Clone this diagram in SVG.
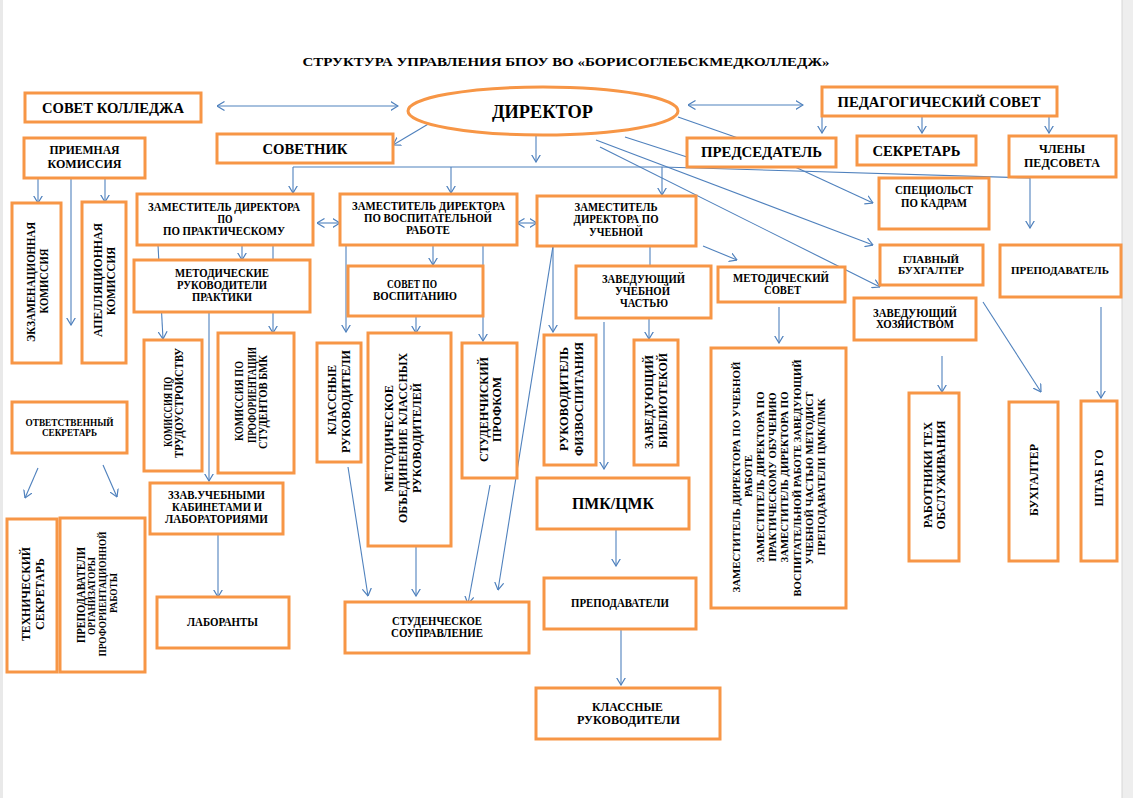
<svg xmlns="http://www.w3.org/2000/svg" width="1133" height="798" viewBox="0 0 1133 798">
<defs>
<style>
.b{fill:#fff;stroke:#F79646;stroke-width:3}
.c{fill:none;stroke:#4F81BD;stroke-width:1.1}
.e{marker-end:url(#ar)}
.d{marker-start:url(#ar);marker-end:url(#ar)}
.t{font-family:"Liberation Serif","Times New Roman",serif;font-weight:bold;fill:#000;text-anchor:middle}
</style>
<marker id="ar" markerUnits="userSpaceOnUse" viewBox="0 0 8 10" markerWidth="8" markerHeight="10" refX="7.5" refY="5" orient="auto-start-reverse">
<path d="M0,0.5 L7.5,5 L0,9.5" fill="none" stroke="#4F81BD" stroke-width="1.2"/>
</marker>
</defs>
<rect x="0" y="0" width="1133" height="798" fill="#fff"/>
<rect x="0" y="0" width="3" height="798" fill="#e9e9e9"/>
<rect x="1122" y="0" width="11" height="798" fill="#eeeeee"/>
<line x1="1122" y1="0" x2="1122" y2="798" stroke="#d6d6d6" stroke-width="1"/>

<text class="t" x="566" y="66" font-size="13.5" textLength="527" lengthAdjust="spacingAndGlyphs">СТРУКТУРА УПРАВЛЕНИЯ БПОУ ВО «БОРИСОГЛЕБСКМЕДКОЛЛЕДЖ»</text>

<g id="connectors">
<line class="c d" x1="217" y1="106" x2="398" y2="106"/>
<line class="c d" x1="688" y1="105" x2="803" y2="105"/>
<line class="c e" x1="430" y1="123" x2="393" y2="145"/>
<line class="c e" x1="536" y1="135" x2="536" y2="162"/>
<polyline class="c" points="293,167 662,167 1030,178"/>
<line class="c e" x1="1030" y1="178" x2="1030" y2="228"/>
<line class="c e" x1="293" y1="167" x2="293" y2="193"/>
<line class="c e" x1="451" y1="167" x2="451" y2="193"/>
<line class="c e" x1="662" y1="167" x2="662" y2="195"/>
<line class="c" x1="678" y1="117" x2="738" y2="138"/>
<line class="c" x1="625" y1="137" x2="687" y2="157"/>
<line class="c e" x1="822" y1="116" x2="822" y2="133"/>
<line class="c e" x1="922" y1="116" x2="922" y2="133"/>
<line class="c e" x1="1049" y1="116" x2="1049" y2="133"/>
<line class="c e" x1="795" y1="167" x2="873" y2="203"/>
<line class="c e" x1="596" y1="140" x2="873" y2="245"/>
<line class="c e" x1="600" y1="147" x2="880" y2="287"/>
<line class="c e" x1="38" y1="178" x2="38" y2="203"/>
<line class="c e" x1="105" y1="178" x2="105" y2="202"/>
<line class="c e" x1="71" y1="178" x2="71" y2="325"/>
<line class="c d" x1="317" y1="223" x2="340" y2="223"/>
<line class="c d" x1="517" y1="223" x2="537" y2="223"/>
<line class="c e" x1="242" y1="245" x2="242" y2="260"/>
<line class="c e" x1="158" y1="245" x2="163" y2="339"/>
<line class="c e" x1="273" y1="245" x2="273" y2="333"/>
<line class="c e" x1="209" y1="312" x2="209" y2="481"/>
<line class="c e" x1="38" y1="468" x2="25" y2="498"/>
<line class="c e" x1="103" y1="465" x2="117" y2="497"/>
<line class="c e" x1="218" y1="534" x2="218" y2="597"/>
<line class="c e" x1="433" y1="245" x2="433" y2="265"/>
<line class="c e" x1="346" y1="245" x2="346" y2="332"/>
<line class="c e" x1="483" y1="245" x2="483" y2="341"/>
<line class="c e" x1="416" y1="316" x2="416" y2="333"/>
<line class="c e" x1="348" y1="467" x2="368" y2="596"/>
<line class="c e" x1="416" y1="546" x2="416" y2="596"/>
<line class="c e" x1="490" y1="485" x2="468" y2="604"/>
<line class="c e" x1="553" y1="246" x2="498" y2="590"/>
<line class="c e" x1="553" y1="246" x2="553" y2="332"/>
<line class="c" x1="650" y1="246" x2="650" y2="266"/>
<line class="c e" x1="649" y1="318" x2="649" y2="339"/>
<line class="c e" x1="604" y1="322" x2="604" y2="469"/>
<line class="c e" x1="703" y1="246" x2="737" y2="260"/>
<line class="c e" x1="779" y1="307" x2="779" y2="343"/>
<line class="c e" x1="616" y1="529" x2="616" y2="566"/>
<line class="c e" x1="621" y1="629" x2="621" y2="685"/>
<line class="c e" x1="942" y1="356" x2="942" y2="392"/>
<line class="c e" x1="983" y1="302" x2="1041" y2="392"/>
<line class="c e" x1="1101" y1="307" x2="1101" y2="398"/>
</g>

<g id="sovet_kolledzha"><rect class="b" x="25" y="93" width="176" height="29"/>
<text class="t" x="113" y="113" font-size="15" textLength="142" lengthAdjust="spacingAndGlyphs">СОВЕТ КОЛЛЕДЖА</text></g>

<g id="direktor"><ellipse cx="543" cy="111" rx="135" ry="24" fill="#fff" stroke="#F79646" stroke-width="3"/>
<text class="t" x="542.5" y="118" font-size="18.5" textLength="101" lengthAdjust="spacingAndGlyphs">ДИРЕКТОР</text></g>

<g id="ped_sovet"><rect class="b" x="822" y="87" width="235" height="29"/>
<text class="t" x="939" y="107" font-size="15" textLength="203" lengthAdjust="spacingAndGlyphs">ПЕДАГОГИЧЕСКИЙ СОВЕТ</text></g>

<g id="sovetnik"><rect class="b" x="217" y="134" width="176" height="29"/>
<text class="t" x="305" y="154" font-size="15" textLength="85" lengthAdjust="spacingAndGlyphs">СОВЕТНИК</text></g>

<g id="predsedatel"><rect class="b" x="687" y="138" width="149" height="29"/>
<text class="t" x="761.5" y="157" font-size="15" textLength="121" lengthAdjust="spacingAndGlyphs">ПРЕДСЕДАТЕЛЬ</text></g>

<g id="sekretar"><rect class="b" x="857" y="136" width="119" height="29"/>
<text class="t" x="916.5" y="156" font-size="15" textLength="88" lengthAdjust="spacingAndGlyphs">СЕКРЕТАРЬ</text></g>

<g id="chleny"><rect class="b" x="1009" y="136" width="107" height="41"/>
<text class="t" x="1062" y="153" font-size="12" textLength="46" lengthAdjust="spacingAndGlyphs">ЧЛЕНЫ</text>
<text class="t" x="1062" y="167" font-size="12" textLength="76" lengthAdjust="spacingAndGlyphs">ПЕДСОВЕТА</text></g>

<g id="priemnaya"><rect class="b" x="24" y="138" width="121" height="40"/>
<text class="t" x="84.5" y="154" font-size="12.5" textLength="70" lengthAdjust="spacingAndGlyphs">ПРИЕМНАЯ</text>
<text class="t" x="84.5" y="168" font-size="12.5" textLength="74" lengthAdjust="spacingAndGlyphs">КОМИССИЯ</text></g>

<g id="ekzamen"><rect class="b" x="12" y="203" width="49" height="160"/>
<text class="t" transform="translate(35,282) rotate(-90)" font-size="12.5" textLength="120" lengthAdjust="spacingAndGlyphs">ЭКЗАМЕНАЦИОННАЯ</text>
<text class="t" transform="translate(48,281) rotate(-90)" font-size="12.5" textLength="65" lengthAdjust="spacingAndGlyphs">КОМИССИЯ</text></g>

<g id="apell"><rect class="b" x="82" y="202" width="44" height="161"/>
<text class="t" transform="translate(102,280) rotate(-90)" font-size="12.5" textLength="114" lengthAdjust="spacingAndGlyphs">АПЕЛЛЯЦИОННАЯ</text>
<text class="t" transform="translate(115,281) rotate(-90)" font-size="12.5" textLength="68" lengthAdjust="spacingAndGlyphs">КОМИССИЯ</text></g>

<g id="zam_prakt"><rect class="b" x="137" y="194" width="176" height="51"/>
<text class="t" x="224" y="211" font-size="11.5" textLength="152" lengthAdjust="spacingAndGlyphs">ЗАМЕСТИТЕЛЬ ДИРЕКТОРА</text>
<text class="t" x="225" y="223" font-size="11.5" textLength="15" lengthAdjust="spacingAndGlyphs">ПО</text>
<text class="t" x="224" y="235" font-size="11.5" textLength="122" lengthAdjust="spacingAndGlyphs">ПО ПРАКТИЧЕСКОМУ</text></g>

<g id="zam_vosp"><rect class="b" x="340" y="194" width="177" height="51"/>
<text class="t" x="428.5" y="210" font-size="11.5" textLength="153" lengthAdjust="spacingAndGlyphs">ЗАМЕСТИТЕЛЬ ДИРЕКТОРА</text>
<text class="t" x="428" y="222" font-size="11.5" textLength="128" lengthAdjust="spacingAndGlyphs">ПО ВОСПИТАТЕЛЬНОЙ</text>
<text class="t" x="428" y="234" font-size="11.5" textLength="44" lengthAdjust="spacingAndGlyphs">РАБОТЕ</text></g>

<g id="zam_uch"><rect class="b" x="537" y="196" width="159" height="50"/>
<text class="t" x="616" y="211" font-size="11.5" textLength="83" lengthAdjust="spacingAndGlyphs">ЗАМЕСТИТЕЛЬ</text>
<text class="t" x="616" y="223" font-size="11.5" textLength="85" lengthAdjust="spacingAndGlyphs">ДИРЕКТОРА ПО</text>
<text class="t" x="616" y="236" font-size="11.5" textLength="54" lengthAdjust="spacingAndGlyphs">УЧЕБНОЙ</text></g>

<g id="specialist"><rect class="b" x="879" y="178" width="110" height="51"/>
<text class="t" x="934" y="194" font-size="11.5" textLength="78" lengthAdjust="spacingAndGlyphs">СПЕЦИОЛЬСТ</text>
<text class="t" x="934" y="207" font-size="11.5" textLength="66" lengthAdjust="spacingAndGlyphs">ПО КАДРАМ</text></g>

<g id="glavbuh"><rect class="b" x="880" y="245" width="103" height="40"/>
<text class="t" x="931" y="263" font-size="11" textLength="56" lengthAdjust="spacingAndGlyphs">ГЛАВНЫЙ</text>
<text class="t" x="931" y="274" font-size="11" textLength="66" lengthAdjust="spacingAndGlyphs">БУХГАЛТЕР</text></g>

<g id="prepodavatel"><rect class="b" x="1000" y="245" width="121" height="52"/>
<text class="t" x="1060" y="274" font-size="11" textLength="98" lengthAdjust="spacingAndGlyphs">ПРЕПОДАВАТЕЛЬ</text></g>

<g id="zavhoz"><rect class="b" x="854" y="298" width="122" height="42"/>
<text class="t" x="915" y="317" font-size="11.5" textLength="84" lengthAdjust="spacingAndGlyphs">ЗАВЕДУЮЩИЙ</text>
<text class="t" x="915" y="328" font-size="11.5" textLength="78" lengthAdjust="spacingAndGlyphs">ХОЗЯЙСТВОМ</text></g>

<g id="met_sovet"><rect class="b" x="718" y="267" width="127" height="35"/>
<text class="t" x="781" y="282" font-size="11.5" textLength="96" lengthAdjust="spacingAndGlyphs">МЕТОДИЧЕСКИЙ</text>
<text class="t" x="782.5" y="294" font-size="11.5" textLength="37" lengthAdjust="spacingAndGlyphs">СОВЕТ</text></g>

<g id="met_sovet_sostav"><rect class="b" x="711" y="348" width="135" height="260"/>
<text class="t" transform="translate(740,477) rotate(-90)" font-size="11" textLength="231" lengthAdjust="spacingAndGlyphs">ЗАМЕСТИТЕЛЬ ДИРЕКТОРА ПО УЧЕБНОЙ</text>
<text class="t" transform="translate(752,476) rotate(-90)" font-size="11" textLength="42" lengthAdjust="spacingAndGlyphs">РАБОТЕ</text>
<text class="t" transform="translate(764,477) rotate(-90)" font-size="11" textLength="171" lengthAdjust="spacingAndGlyphs">ЗАМЕСТИТЕЛЬ ДИРЕКТОРА ПО</text>
<text class="t" transform="translate(776,477) rotate(-90)" font-size="11" textLength="169" lengthAdjust="spacingAndGlyphs">ПРАКТИЧЕСКОМУ ОБУЧЕНИЮ</text>
<text class="t" transform="translate(788,477) rotate(-90)" font-size="11" textLength="171" lengthAdjust="spacingAndGlyphs">ЗАМЕСТИТЕЛЬ ДИРЕКТОРА ПО</text>
<text class="t" transform="translate(801,478) rotate(-90)" font-size="11" textLength="237" lengthAdjust="spacingAndGlyphs">ВОСПИТАТЕЛЬНОЙ РАБОТЕ ЗАВЕДУЮЩИЙ</text>
<text class="t" transform="translate(813,478) rotate(-90)" font-size="11" textLength="173" lengthAdjust="spacingAndGlyphs">УЧЕБНОЙ ЧАСТЬЮ МЕТОДИСТ</text>
<text class="t" transform="translate(825,477) rotate(-90)" font-size="11" textLength="157" lengthAdjust="spacingAndGlyphs">ПРЕПОДАВАТЕЛИ ЦМК/ПМК</text></g>

<g id="rabotniki"><rect class="b" x="909" y="393" width="50" height="168"/>
<text class="t" transform="translate(932,475) rotate(-90)" font-size="12.5" textLength="106" lengthAdjust="spacingAndGlyphs">РАБОТНИКИ ТЕХ</text>
<text class="t" transform="translate(945,475) rotate(-90)" font-size="12.5" textLength="109" lengthAdjust="spacingAndGlyphs">ОБСЛУЖИВАНИЯ</text></g>

<g id="buhgalter"><rect class="b" x="1009" y="402" width="49" height="159"/>
<text class="t" transform="translate(1038,480) rotate(-90)" font-size="12.5" textLength="72" lengthAdjust="spacingAndGlyphs">БУХГАЛТЕР</text></g>

<g id="shtab_go"><rect class="b" x="1081" y="401" width="36" height="160"/>
<text class="t" transform="translate(1103,478) rotate(-90)" font-size="12.5" textLength="57" lengthAdjust="spacingAndGlyphs">ШТАБ ГО</text></g>

<g id="met_ruk"><rect class="b" x="134" y="260" width="176" height="52"/>
<text class="t" x="222" y="277" font-size="11.5" textLength="94" lengthAdjust="spacingAndGlyphs">МЕТОДИЧЕСКИЕ</text>
<text class="t" x="222" y="289" font-size="11.5" textLength="90" lengthAdjust="spacingAndGlyphs">РУКОВОДИТЕЛИ</text>
<text class="t" x="222" y="301" font-size="11.5" textLength="60" lengthAdjust="spacingAndGlyphs">ПРАКТИКИ</text></g>

<g id="kom_trud"><rect class="b" x="144" y="340" width="58" height="131"/>
<text class="t" transform="translate(172,412) rotate(-90)" font-size="12" textLength="70" lengthAdjust="spacingAndGlyphs">КОМИССИЯ ПО</text>
<text class="t" transform="translate(183,403) rotate(-90)" font-size="12" textLength="110" lengthAdjust="spacingAndGlyphs">ТРУДОУСТРОЙСТВУ</text></g>

<g id="kom_prof"><rect class="b" x="218" y="333" width="76" height="140"/>
<text class="t" transform="translate(243,401) rotate(-90)" font-size="12" textLength="80" lengthAdjust="spacingAndGlyphs">КОМИССИЯ ПО</text>
<text class="t" transform="translate(256,395) rotate(-90)" font-size="12" textLength="96" lengthAdjust="spacingAndGlyphs">ПРОФОРИЕНТАЦИИ</text>
<text class="t" transform="translate(267,402) rotate(-90)" font-size="12" textLength="94" lengthAdjust="spacingAndGlyphs">СТУДЕНТОВ БМК</text></g>

<g id="otv_sekr"><rect class="b" x="12" y="402" width="115" height="51"/>
<text class="t" x="69.5" y="426" font-size="10.5" textLength="88" lengthAdjust="spacingAndGlyphs">ОТВЕТСТВЕННЫЙ</text>
<text class="t" x="69.5" y="436" font-size="10.5" textLength="55" lengthAdjust="spacingAndGlyphs">СЕКРЕТАРЬ</text></g>

<g id="teh_sekr"><rect class="b" x="7" y="519" width="50" height="153"/>
<text class="t" transform="translate(30,594) rotate(-90)" font-size="12.5" textLength="94" lengthAdjust="spacingAndGlyphs">ТЕХНИЧЕСКИЙ</text>
<text class="t" transform="translate(44,594) rotate(-90)" font-size="12.5" textLength="72" lengthAdjust="spacingAndGlyphs">СЕКРЕТАРЬ</text></g>

<g id="prep_org"><rect class="b" x="60" y="518" width="85" height="154"/>
<text class="t" transform="translate(85,595) rotate(-90)" font-size="12" textLength="96" lengthAdjust="spacingAndGlyphs">ПРЕПОДАВАТЕЛИ</text>
<text class="t" transform="translate(95,596) rotate(-90)" font-size="9.5" textLength="78" lengthAdjust="spacingAndGlyphs">ОРГАНИЗАТОРЫ</text>
<text class="t" transform="translate(106,594) rotate(-90)" font-size="10" textLength="125" lengthAdjust="spacingAndGlyphs">ПРОФОРИЕНТАЦИОННОЙ</text>
<text class="t" transform="translate(117,593) rotate(-90)" font-size="9.5" textLength="40" lengthAdjust="spacingAndGlyphs">РАБОТЫ</text></g>

<g id="zav_kab"><rect class="b" x="150" y="483" width="133" height="51"/>
<text class="t" x="216.5" y="499" font-size="11.5" textLength="97" lengthAdjust="spacingAndGlyphs">ЗЗАВ.УЧЕБНЫМИ</text>
<text class="t" x="217" y="511" font-size="11.5" textLength="90" lengthAdjust="spacingAndGlyphs">КАБИНЕТАМИ И</text>
<text class="t" x="216.5" y="523" font-size="11.5" textLength="103" lengthAdjust="spacingAndGlyphs">ЛАБОРАТОРИЯМИ</text></g>

<g id="laboranty"><rect class="b" x="157" y="597" width="132" height="51"/>
<text class="t" x="222.5" y="626" font-size="11.5" textLength="71" lengthAdjust="spacingAndGlyphs">ЛАБОРАНТЫ</text></g>

<g id="sovet_vosp"><rect class="b" x="348" y="266" width="135" height="50"/>
<text class="t" x="412" y="288" font-size="12" textLength="50" lengthAdjust="spacingAndGlyphs">СОВЕТ ПО</text>
<text class="t" x="415" y="300" font-size="12" textLength="84" lengthAdjust="spacingAndGlyphs">ВОСПИТАНИЮ</text></g>

<g id="klass_ruk_1"><rect class="b" x="317" y="343" width="44" height="119"/>
<text class="t" transform="translate(336,400) rotate(-90)" font-size="12.5" textLength="70" lengthAdjust="spacingAndGlyphs">КЛАССНЫЕ</text>
<text class="t" transform="translate(350,401.5) rotate(-90)" font-size="12.5" textLength="103" lengthAdjust="spacingAndGlyphs">РУКОВОДИТЕЛИ</text></g>

<g id="met_obed"><rect class="b" x="368" y="333" width="83" height="213"/>
<text class="t" transform="translate(393,438.5) rotate(-90)" font-size="12.5" textLength="107" lengthAdjust="spacingAndGlyphs">МЕТОДИЧЕСКОЕ</text>
<text class="t" transform="translate(407,438) rotate(-90)" font-size="12.5" textLength="170" lengthAdjust="spacingAndGlyphs">ОБЪЕДИНЕНИЕ КЛАССНЫХ</text>
<text class="t" transform="translate(421,438) rotate(-90)" font-size="12.5" textLength="110" lengthAdjust="spacingAndGlyphs">РУКОВОДИТЕЛЕЙ</text></g>

<g id="profkom"><rect class="b" x="462" y="343" width="55" height="135"/>
<text class="t" transform="translate(488,409.5) rotate(-90)" font-size="12.5" textLength="105" lengthAdjust="spacingAndGlyphs">СТУДЕНЧИСКИЙ</text>
<text class="t" transform="translate(501,409.5) rotate(-90)" font-size="12.5" textLength="65" lengthAdjust="spacingAndGlyphs">ПРОФКОМ</text></g>

<g id="zav_uch"><rect class="b" x="576" y="266" width="135" height="52"/>
<text class="t" x="643.5" y="283" font-size="12" textLength="83" lengthAdjust="spacingAndGlyphs">ЗАВЕДУЮЩИЙ</text>
<text class="t" x="642.5" y="295" font-size="12" textLength="55" lengthAdjust="spacingAndGlyphs">УЧЕБНОЙ</text>
<text class="t" x="644" y="307" font-size="12" textLength="48" lengthAdjust="spacingAndGlyphs">ЧАСТЬЮ</text></g>

<g id="ruk_fiz"><rect class="b" x="544" y="335" width="52" height="130"/>
<text class="t" transform="translate(568,399) rotate(-90)" font-size="12.5" textLength="104" lengthAdjust="spacingAndGlyphs">РУКОВОДИТЕЛЬ</text>
<text class="t" transform="translate(583,399) rotate(-90)" font-size="12.5" textLength="114" lengthAdjust="spacingAndGlyphs">ФИЗВОСПИТАНИЯ</text></g>

<g id="zav_bib"><rect class="b" x="634" y="340" width="44" height="125"/>
<text class="t" transform="translate(653,402) rotate(-90)" font-size="12" textLength="94" lengthAdjust="spacingAndGlyphs">ЗАВЕДУЮЩИЙ</text>
<text class="t" transform="translate(667,400.5) rotate(-90)" font-size="12" textLength="95" lengthAdjust="spacingAndGlyphs">БИБЛИОТЕКОЙ</text></g>

<g id="pmk"><rect class="b" x="537" y="478" width="152" height="51"/>
<text class="t" x="613" y="509" font-size="17" textLength="82" lengthAdjust="spacingAndGlyphs">ПМК/ЦМК</text></g>

<g id="prepodavateli"><rect class="b" x="544" y="578" width="152" height="51"/>
<text class="t" x="620" y="607" font-size="11.5" textLength="98" lengthAdjust="spacingAndGlyphs">ПРЕПОДАВАТЕЛИ</text></g>

<g id="klass_ruk_2"><rect class="b" x="536" y="688" width="184" height="51"/>
<text class="t" x="627.5" y="711" font-size="12" textLength="71" lengthAdjust="spacingAndGlyphs">КЛАССНЫЕ</text>
<text class="t" x="628.5" y="724" font-size="12" textLength="103" lengthAdjust="spacingAndGlyphs">РУКОВОДИТЕЛИ</text></g>

<g id="stud_soupr"><rect class="b" x="345" y="602" width="184" height="51"/>
<text class="t" x="437" y="625" font-size="12" textLength="90" lengthAdjust="spacingAndGlyphs">СТУДЕНЧЕСКОЕ</text>
<text class="t" x="437" y="637" font-size="12" textLength="92" lengthAdjust="spacingAndGlyphs">СОУПРАВЛЕНИЕ</text></g>
</svg>
